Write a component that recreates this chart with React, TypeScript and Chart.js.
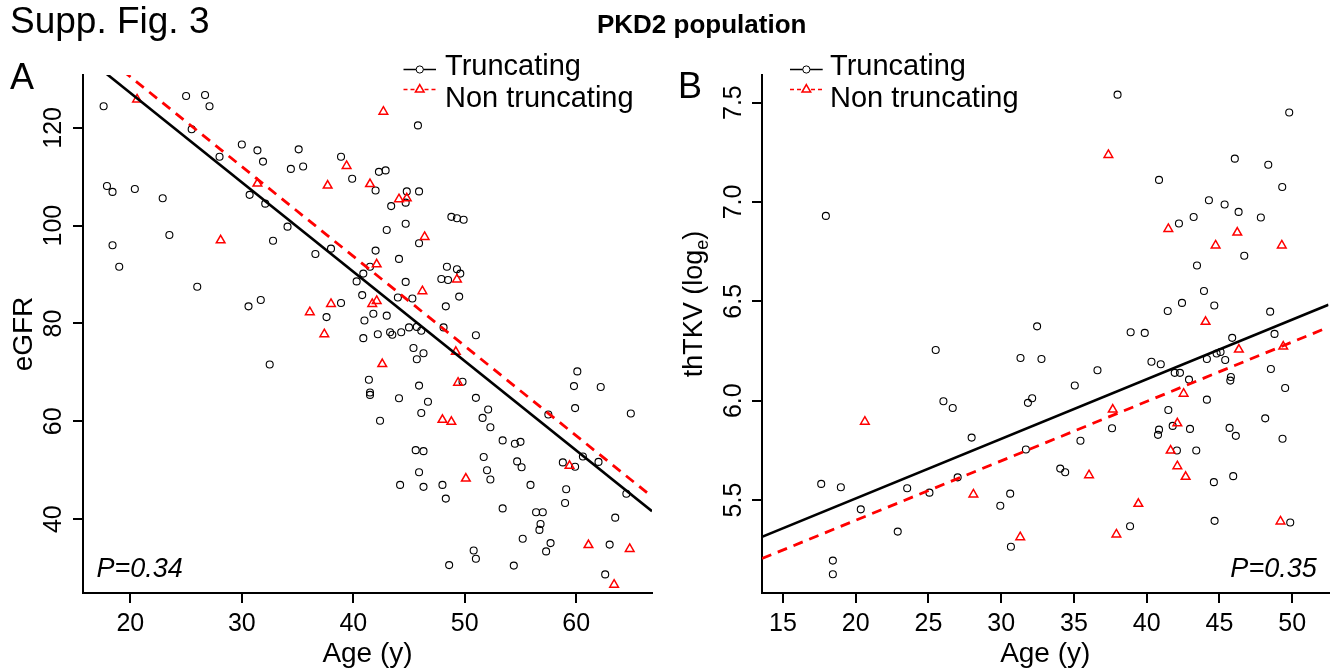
import React, { useEffect, useRef } from 'react';
import { Chart, registerables } from 'chart.js';

Chart.register(...registerables);

const FONT = '"Liberation Sans", Arial, Helvetica, sans-serif';
Chart.defaults.font.family = FONT;

// ---------------- Panel A: eGFR vs age ----------------
const ageTruncA = [
  17.6, 25.0, 26.7, 27.1, 25.5, 28.0, 30.0, 31.4, 31.9, 35.1, 34.4, 35.5, 38.9, 39.9, 42.3, 42.0, 17.9, 18.4, 20.4, 22.9,
  30.7, 32.1, 18.4, 19.0, 23.5, 26.0, 32.8, 34.1, 36.6, 38.0, 42.0, 41.5, 40.9, 40.3, 40.8, 30.6, 31.7, 38.9, 37.6, 41.0,
  41.8, 40.9, 42.2,
  45.8, 42.9, 44.8, 45.9, 43.4, 44.7, 44.7, 43.0, 48.8, 49.3, 49.9, 45.9, 44.1, 48.4, 49.3, 49.6, 47.9, 48.5, 44.7, 44.0,
  45.3, 49.5, 48.3, 43.0, 43.3, 43.5, 44.3, 45.0, 45.7, 46.1, 48.1, 51.0, 45.4, 46.3, 45.7,
  32.5,
  41.4, 41.5, 41.5, 42.4, 44.1, 45.9, 46.7, 46.1, 45.6, 46.3, 45.9, 44.2, 46.3, 48.0, 48.3, 49.8, 51.0, 52.1, 51.6, 52.3,
  53.4, 54.5, 55.0, 51.7, 52.0, 52.3, 54.7, 55.1, 55.9, 53.4, 56.4, 57.0, 56.8, 56.7, 55.2, 57.7, 57.3, 50.8, 51.0, 48.6,
  54.4, 57.5, 60.1, 59.8, 59.9, 62.2, 64.9, 58.8, 59.9, 60.6, 62.0, 59.1, 59.0, 64.5, 63.5, 63.0, 62.6,
];
const egfrTruncA = [
  124.4, 126.5, 126.7, 124.4, 119.7, 114.1, 116.6, 115.4, 113.1, 115.6, 111.6, 112.1, 114.1, 109.6, 111.0, 107.2, 108.1,
  106.9, 107.5, 105.6, 106.3, 104.5, 96.0, 91.6, 98.1, 87.5, 96.9, 99.8, 94.2, 95.3, 94.9, 91.6, 90.2, 88.6, 85.8, 83.5,
  84.8, 84.2, 81.3, 80.6, 82.0, 77.0, 77.8,
  120.5, 111.3, 107.0, 107.0, 104.0, 104.7, 100.4, 99.1, 101.8, 101.5, 101.2, 96.4, 93.2, 91.6, 91.1, 90.2, 89.1, 88.9,
  88.5, 85.3, 85.1, 85.5, 83.5, 81.6, 78.2, 77.7, 78.2, 79.2, 79.3, 78.5, 79.2, 77.6, 75.0, 73.9, 72.7,
  71.6,
  68.5, 65.9, 65.4, 60.1, 64.7, 67.3, 64.0, 61.7, 54.1, 53.9, 49.6, 47.0, 46.6, 47.0, 44.2, 68.1, 64.8, 62.4, 60.7, 58.8,
  56.1, 55.4, 55.8, 52.7, 50.0, 48.1, 51.8, 50.6, 47.0, 42.2, 41.4, 41.4, 39.0, 37.8, 36.0, 35.1, 33.4, 33.6, 31.9, 30.6,
  30.5, 61.4, 70.2, 67.2, 62.7, 67.0, 61.6, 51.6, 50.7, 52.8, 51.7, 46.1, 43.3, 45.2, 40.3, 34.8, 28.7,
];
const ageNonTruncA = [
  20.6, 28.1, 31.4, 39.4, 37.7, 41.5, 42.1, 41.7, 42.1, 38.0, 36.1, 37.4, 42.7, 44.1, 44.8, 46.4, 49.3, 46.2, 49.2, 49.4,
  42.6, 48.0, 48.8, 50.1, 59.4, 61.1, 64.8, 63.4,
];
const egfrNonTruncA = [
  125.8, 97.0, 108.6, 112.2, 108.2, 108.5, 92.1, 84.0, 84.6, 84.0, 82.3, 77.8, 123.3, 105.4, 105.6, 97.7, 89.0, 86.6,
  74.2, 67.9, 71.7, 60.3, 59.9, 48.3, 50.9, 34.7, 33.9, 26.6,
];
const xTicksA = [20, 30, 40, 50, 60];
const yTicksA = [40, 60, 80, 100, 120];
const xRangeA = [15.75, 66.8];
const yRangeA = [24.9, 130.8];
const fitTruncA = [163.67, -1.827]; // intercept, slope
const fitNonTruncA = [167.1, -1.834];

// ---------------- Panel B: thTKV vs age ----------------
const ageTruncB = [
  17.95, 38.0, 49.8, 46.06, 48.36, 49.32, 40.85, 44.28, 45.36, 46.32, 47.85, 43.23, 42.22, 46.71, 43.46, 43.94, 42.43,
  41.45, 44.65, 48.49, 32.47, 38.9, 39.87, 48.79, 45.88,
  31.33, 32.77, 36.62, 35.06, 31.84, 32.13, 40.33, 40.97, 41.93, 42.29, 42.91, 44.14, 44.81, 45.08, 45.4, 45.79, 45.75,
  48.54, 49.52, 44.14, 41.49, 41.79, 42.98, 40.85, 40.78, 37.62, 35.45, 31.7, 42.08, 43.41, 45.7, 46.13, 48.15, 49.34,
  34.06, 34.4, 45.95, 44.62, 30.62, 29.94, 38.86, 44.67, 49.87, 30.67,
  25.5, 26.03, 26.67, 27.97, 27.01, 17.63, 18.98, 23.54, 25.07, 20.35, 22.89, 18.43, 18.43,
];
const tkvTruncB = [
  6.93, 7.54, 7.45, 7.218, 7.187, 7.075, 7.111, 7.009, 6.987, 6.95, 6.922, 6.924, 6.892, 6.729, 6.68, 6.552, 6.492,
  6.451, 6.479, 6.448, 6.374, 6.344, 6.341, 6.336, 6.316,
  6.215, 6.21, 6.153, 6.076, 5.989, 6.012, 6.196, 6.183, 6.14, 6.14, 6.106, 6.21, 6.237, 6.245, 6.205, 6.119, 6.101,
  6.159, 6.064, 6.005, 5.953, 5.873, 5.858, 5.854, 5.828, 5.861, 5.798, 5.754, 5.749, 5.749, 5.863, 5.823, 5.911, 5.808,
  5.658, 5.64, 5.62, 5.59, 5.532, 5.471, 5.368, 5.395, 5.387, 5.265,
  6.255, 5.997, 5.963, 5.814, 5.614, 5.581, 5.564, 5.559, 5.537, 5.453, 5.341, 5.195, 5.126,
];
const ageNonTruncB = [
  37.37, 41.49, 46.23, 44.74, 49.29, 44.05, 46.34, 49.39, 42.54, 37.67, 42.11, 41.65, 42.11, 42.68, 36.04, 39.43, 37.92,
  31.31, 49.2, 20.63, 28.09,
];
const tkvNonTruncB = [
  7.237, 6.864, 6.846, 6.781, 6.781, 6.397, 6.257, 6.272, 6.035, 5.955, 5.886, 5.749, 5.67, 5.617, 5.625, 5.481, 5.327,
  5.313, 5.392, 5.894, 5.528,
];
const xTicksB = [15, 20, 25, 30, 35, 40, 45, 50];
const yTicksB = [5.5, 6.0, 6.5, 7.0, 7.5];
const xRangeB = [13.56, 52.5];
const yRangeB = [5.032, 7.639];
const fitTruncB = [4.908, 0.03];
const fitNonTruncB = [4.8, 0.0299];

const legendLabels = ['Truncating', 'Non truncating'];

// ---------------- helpers ----------------
type Layout = {
  width: number;
  yAxisWidth: number;
  padRight: number;
  yTickPad: number;
};

function pts(xs: number[], ys: number[]) {
  return xs.map((x, i) => ({ x, y: ys[i] }));
}
function fitLine(fit: number[], range: number[]) {
  return range.map((x) => ({ x, y: fit[0] + fit[1] * x }));
}

function drawTriangle(ctx: CanvasRenderingContext2D, x: number, y: number, r: number) {
  ctx.beginPath();
  let rad = 0;
  for (let k = 0; k < 3; k++) {
    const px = x + Math.sin(rad) * r;
    const py = y - Math.cos(rad) * r;
    if (k === 0) ctx.moveTo(px, py);
    else ctx.lineTo(px, py);
    rad += (2 * Math.PI) / 3;
  }
  ctx.closePath();
  ctx.stroke();
}

function drawLegend(ctx: CanvasRenderingContext2D, lx0: number, lx1: number, tx: number) {
  const mx = (lx0 + lx1) / 2;
  // Truncating row
  ctx.strokeStyle = '#000';
  ctx.lineWidth = 1.5;
  ctx.setLineDash([]);
  ctx.beginPath();
  ctx.moveTo(lx0, 69.5);
  ctx.lineTo(lx1, 69.5);
  ctx.stroke();
  ctx.fillStyle = '#fff';
  ctx.beginPath();
  ctx.arc(mx, 69.5, 3.6, 0, Math.PI * 2);
  ctx.fill();
  ctx.lineWidth = 1;
  ctx.stroke();
  // Non truncating row
  ctx.strokeStyle = '#ff0000';
  ctx.lineWidth = 1.5;
  ctx.setLineDash([4, 3]);
  ctx.beginPath();
  ctx.moveTo(lx0, 89.5);
  ctx.lineTo(lx1, 89.5);
  ctx.stroke();
  ctx.setLineDash([]);
  ctx.fillStyle = '#fff';
  ctx.beginPath();
  ctx.moveTo(mx, 84.5);
  ctx.lineTo(mx + 4.4, 92);
  ctx.lineTo(mx - 4.4, 92);
  ctx.closePath();
  ctx.fill();
  drawTriangle(ctx, mx, 89.5, 5);
  // text
  ctx.fillStyle = '#000';
  ctx.font = `29px ${FONT}`;
  ctx.textAlign = 'left';
  ctx.textBaseline = 'alphabetic';
  ctx.fillText(legendLabels[0], tx, 75);
  ctx.fillText(legendLabels[1], tx, 106.7);
}

function buildConfig(opts: {
  truncX: number[];
  truncY: number[];
  nonX: number[];
  nonY: number[];
  xTicks: number[];
  yTicks: number[];
  xRange: number[];
  yRange: number[];
  fitT: number[];
  fitN: number[];
  yTitle: string | null;
  yFmt: (v: number) => string;
  layout: Layout;
  overlay: (ctx: CanvasRenderingContext2D) => void;
}): any {
  const { layout } = opts;
  const tickFont = { family: FONT, size: 25 };
  return {
    type: 'scatter',
    data: {
      datasets: [
        {
          type: 'line',
          data: fitLine(opts.fitT, opts.xRange),
          borderColor: '#000',
          borderWidth: 2.6,
          pointRadius: 0,
          fill: false,
          tension: 0,
        },
        {
          type: 'line',
          data: fitLine(opts.fitN, opts.xRange),
          borderColor: '#ff0000',
          borderWidth: 2.8,
          borderDash: [10, 7],
          pointRadius: 0,
          fill: false,
          tension: 0,
        },
        {
          data: pts(opts.nonX, opts.nonY),
          pointStyle: 'triangle',
          pointRadius: 5,
          pointBorderWidth: 1.5,
          pointBorderColor: '#ff0000',
          pointBackgroundColor: 'rgba(0,0,0,0)',
          borderColor: '#ff0000',
          backgroundColor: 'rgba(0,0,0,0)',
          showLine: false,
        },
        {
          data: pts(opts.truncX, opts.truncY),
          pointStyle: 'circle',
          pointRadius: 3.5,
          pointBorderWidth: 1.1,
          pointBorderColor: '#000',
          pointBackgroundColor: 'rgba(0,0,0,0)',
          borderColor: '#000',
          backgroundColor: 'rgba(0,0,0,0)',
          showLine: false,
        },
      ],
    },
    options: {
      responsive: false,
      animation: false,
      events: [],
      layout: { padding: { left: 0, top: 75, right: layout.padRight, bottom: 0 } },
      plugins: { legend: { display: false }, tooltip: { enabled: false }, title: { display: false } },
      scales: {
        x: {
          type: 'linear',
          position: 'bottom',
          min: opts.xRange[0],
          max: opts.xRange[1],
          afterBuildTicks: (s: any) => {
            s.ticks = opts.xTicks.map((v) => ({ value: v }));
          },
          afterFit: (s: any) => {
            s.height = 79;
          },
          ticks: {
            font: tickFont,
            color: '#000',
            padding: 6,
            autoSkip: false,
            maxRotation: 0,
            minRotation: 0,
            callback: (v: number) => String(v),
          },
          grid: { display: true, drawOnChartArea: false, drawTicks: true, tickLength: 10, color: '#000', lineWidth: 2 },
          border: { display: true, color: '#000', width: 2 },
          title: {
            display: true,
            text: 'Age (y)',
            color: '#000',
            font: { family: FONT, size: 28 },
            padding: { top: 0, bottom: 1 },
          },
        },
        y: {
          type: 'linear',
          position: 'left',
          min: opts.yRange[0],
          max: opts.yRange[1],
          afterBuildTicks: (s: any) => {
            s.ticks = opts.yTicks.map((v) => ({ value: v }));
          },
          afterFit: (s: any) => {
            s.width = layout.yAxisWidth;
          },
          ticks: {
            font: tickFont,
            color: '#000',
            padding: layout.yTickPad,
            autoSkip: false,
            minRotation: 90,
            maxRotation: 90,
            crossAlign: 'center',
            callback: (v: number) => opts.yFmt(v),
          },
          grid: { display: true, drawOnChartArea: false, drawTicks: true, tickLength: 10, color: '#000', lineWidth: 2 },
          border: { display: true, color: '#000', width: 2 },
          title: {
            display: !!opts.yTitle,
            text: opts.yTitle || '',
            color: '#000',
            font: { family: FONT, size: 28 },
            padding: { top: 7, bottom: 0 },
          },
        },
      },
    },
    plugins: [
      {
        id: 'overlay',
        afterDraw(chart: any) {
          const ctx = chart.ctx as CanvasRenderingContext2D;
          ctx.save();
          opts.overlay(ctx);
          ctx.restore();
        },
      },
    ],
  };
}

const layoutA: Layout = { width: 667, yAxisWidth: 83, padRight: 15, yTickPad: -2 };
const layoutB: Layout = { width: 668, yAxisWidth: 95, padRight: 6, yTickPad: 1 };

export default function App() {
  const refA = useRef<HTMLCanvasElement | null>(null);
  const refB = useRef<HTMLCanvasElement | null>(null);

  useEffect(() => {
    if (!refA.current || !refB.current) return;
    const chartA = new Chart(
      refA.current,
      buildConfig({
        truncX: ageTruncA,
        truncY: egfrTruncA,
        nonX: ageNonTruncA,
        nonY: egfrNonTruncA,
        xTicks: xTicksA,
        yTicks: yTicksA,
        xRange: xRangeA,
        yRange: yRangeA,
        fitT: fitTruncA,
        fitN: fitNonTruncA,
        yTitle: 'eGFR',
        yFmt: (v) => String(v),
        layout: layoutA,
        overlay: (ctx) => {
          drawLegend(ctx, 403.5, 436, 445);
          ctx.fillStyle = '#000';
          ctx.font = `italic 27px ${FONT}`;
          ctx.textAlign = 'left';
          ctx.textBaseline = 'alphabetic';
          ctx.fillText('P=0.34', 96.5, 576.7);
        },
      })
    );
    const chartB = new Chart(
      refB.current,
      buildConfig({
        truncX: ageTruncB,
        truncY: tkvTruncB,
        nonX: ageNonTruncB,
        nonY: tkvNonTruncB,
        xTicks: xTicksB,
        yTicks: yTicksB,
        xRange: xRangeB,
        yRange: yRangeB,
        fitT: fitTruncB,
        fitN: fitNonTruncB,
        yTitle: null,
        yFmt: (v) => v.toFixed(1),
        layout: layoutB,
        overlay: (ctx) => {
          drawLegend(ctx, 123, 155.7, 163);
          ctx.fillStyle = '#000';
          ctx.font = `italic 27px ${FONT}`;
          ctx.textAlign = 'right';
          ctx.textBaseline = 'alphabetic';
          ctx.fillText('P=0.35', 649.7, 576.7);
          // y axis title with subscript
          ctx.save();
          ctx.translate(34.7, 304);
          ctx.rotate(-Math.PI / 2);
          const main = 'thTKV (log';
          const sub = 'e';
          const close = ')';
          ctx.font = `27px ${FONT}`;
          const w1 = ctx.measureText(main).width;
          const w3 = ctx.measureText(close).width;
          ctx.font = `18px ${FONT}`;
          const w2 = ctx.measureText(sub).width;
          const start = -(w1 + w2 + w3) / 2;
          ctx.textAlign = 'left';
          ctx.font = `27px ${FONT}`;
          ctx.fillText(main, start, 0);
          ctx.font = `18px ${FONT}`;
          ctx.fillText(sub, start + w1, 6);
          ctx.font = `27px ${FONT}`;
          ctx.fillText(close, start + w1 + w2, 0);
          ctx.restore();
        },
      })
    );
    return () => {
      chartA.destroy();
      chartB.destroy();
    };
  }, []);

  const txt: React.CSSProperties = {
    position: 'absolute',
    fontFamily: FONT,
    lineHeight: 1,
    whiteSpace: 'nowrap',
    color: '#000',
    margin: 0,
  };

  return (
    <div style={{ position: 'absolute', left: 0, top: 0, width: 1335, height: 672, background: '#fff', overflow: 'hidden' }}>
      <canvas ref={refA} width={layoutA.width} height={672} style={{ position: 'absolute', left: 0, top: 0 }} />
      <canvas ref={refB} width={layoutB.width} height={672} style={{ position: 'absolute', left: 667, top: 0 }} />
      <div style={{ ...txt, left: 10, top: 2, fontSize: 37 }}>Supp. Fig. 3</div>
      <div style={{ ...txt, left: 701.7, top: 11.3, fontSize: 26, fontWeight: 'bold', transform: 'translateX(-50%)' }}>
        PKD2 population
      </div>
      <div style={{ ...txt, left: 10, top: 58.5, fontSize: 36 }}>A</div>
      <div style={{ ...txt, left: 678, top: 67.5, fontSize: 36 }}>B</div>
    </div>
  );
}
